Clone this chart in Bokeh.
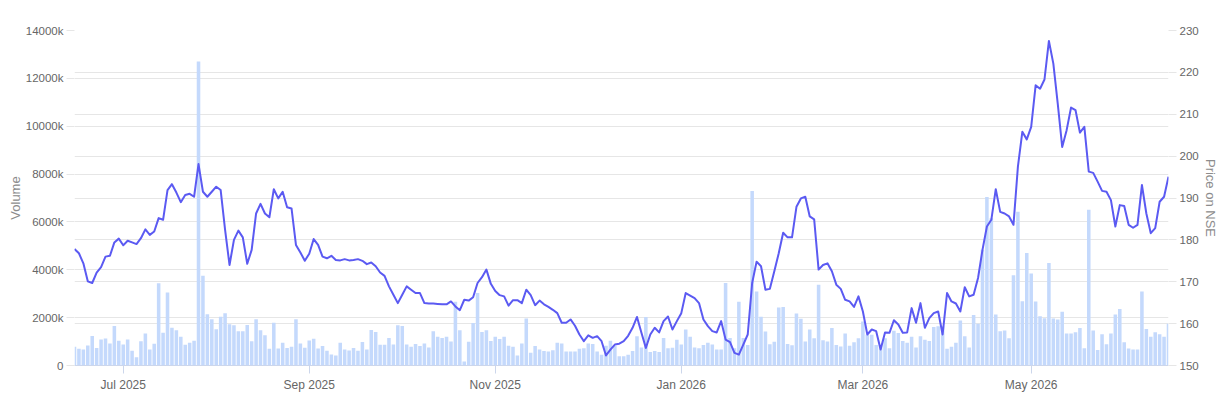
from bokeh.plotting import figure
from bokeh.models import Range1d, LinearAxis, FixedTicker, Grid, CustomJSTickFormatter
from bokeh.embed import file_html
from bokeh.resources import INLINE

# Daily traded volume (thousands of shares), one value per trading day
volume_k = [
    780, 700, 670, 840, 1230, 730, 1090, 1130, 920, 1650,
    1030, 880, 1090, 620, 340, 1010, 1340, 670, 910, 3440,
    1370, 3050, 1580, 1470, 1200, 870, 950, 1030, 12700, 3750,
    2140, 1930, 1510, 2040, 2180, 1720, 1680, 1430, 1430, 1690,
    1010, 1930, 1470, 1260, 700, 1790, 710, 950, 730, 780,
    1930, 920, 740, 1050, 1120, 710, 810, 620, 460, 420,
    950, 670, 630, 730, 620, 980, 670, 1480, 1400, 870,
    870, 1150, 880, 1680, 1650, 880, 780, 900, 810,
    920, 750, 1430, 1200, 1150, 1200, 1000, 2660, 1470, 170,
    990, 1780, 3030, 1400, 1470, 1020, 1200, 1110, 1200, 830,
    780, 420, 920, 1960, 530, 820, 670, 610, 580, 640,
    950, 920, 580, 580, 580, 700, 720, 920, 900, 580,
    450, 830, 1030, 810, 390, 390, 450, 610, 1220, 750,
    2030, 560, 610, 560, 1150, 720, 740, 1080, 880, 1500,
    1200, 750, 720, 860, 950, 880, 670, 670, 3450, 1150,
    720, 2660, 1150, 860, 7290, 3090, 2040, 1420, 890, 990,
    2420, 2450, 900, 850, 2170, 1950, 1000, 1500, 1140, 3370,
    1060, 1000, 1570, 860, 790, 1340, 830, 970, 1140, 1840,
    1280, 1280, 860, 850, 1140, 720, 1450, 1360, 1020, 950,
    1200, 750, 1220, 1080, 1020, 1610, 1640, 1640, 700, 780,
    950, 1880, 1220, 750, 2110, 1750, 4840, 7040, 6150, 2130,
    1430, 1460, 1140, 3770, 6430, 2680, 4700, 3840, 2670, 2060,
    1970, 4280, 1960, 1920, 2250, 1340, 1340, 1390, 1570, 720,
    6510, 1460, 650, 1310, 890, 1340, 2130, 2360, 970, 710,
    670, 670, 3090, 1530, 1200, 1390, 1310, 1200, 1750,
]

# Closing price on NSE, one value per trading day
price = [
    177.8, 176.8, 174.4, 170.1, 169.7, 172.2, 173.5, 176.0, 176.2, 179.4,
    180.3, 178.7, 179.8, 179.4, 179.0, 180.4, 182.5, 181.2, 182.0, 185.2,
    184.8, 191.9, 193.3, 191.3, 189.0, 190.7, 191.0, 190.3, 198.1, 191.5,
    190.3, 191.5, 192.7, 191.9, 182.4, 174.0, 180.0, 182.2, 180.6, 174.3,
    177.6, 186.3, 188.6, 186.3, 185.4, 192.1, 189.9, 191.5, 187.8, 187.5,
    178.8, 177.0, 175.0, 176.7, 180.2, 178.8, 176.0, 175.6, 176.2, 175.2,
    175.1, 175.4, 175.1, 175.2, 175.4, 175.0, 174.2, 174.6, 173.7, 172.2,
    171.4, 168.9, 166.9, 164.9, 166.9, 168.9, 168.1, 167.3, 167.3,
    164.9, 164.8, 164.8, 164.7, 164.6, 164.6, 165.3, 164.1, 163.2, 165.7,
    165.5, 166.3, 169.7, 171.1, 172.9, 169.5, 167.8, 166.8, 166.5, 164.3,
    165.6, 165.6, 164.9, 168.1, 166.8, 164.4, 165.5, 164.6, 164.0, 163.3,
    162.5, 160.2, 160.2, 161.0, 159.5, 157.4, 155.8, 157.2, 156.6, 157.0,
    155.8, 152.4, 153.8, 155.0, 155.2, 155.8, 157.1, 159.0, 161.6, 157.8,
    154.2, 157.4, 159.0, 157.9, 160.6, 161.7, 158.6, 160.6, 162.5, 167.3,
    166.7, 166.1, 164.9, 161.0, 159.4, 158.2, 157.9, 160.6, 156.2, 155.6,
    153.0, 152.6, 155.0, 157.4, 169.7, 174.8, 173.7, 168.1, 168.3, 172.5,
    176.8, 181.7, 180.6, 180.6, 187.9, 189.9, 190.3, 185.6, 184.9, 172.9,
    174.0, 174.4, 172.5, 169.3, 168.3, 165.7, 165.3, 164.0, 166.5, 162.9,
    157.4, 158.6, 158.2, 153.8, 157.9, 157.8, 160.8, 159.8, 157.8, 157.9,
    163.7, 160.2, 164.9, 159.0, 161.3, 162.5, 162.9, 157.4, 167.3, 165.3,
    164.8, 162.9, 168.7, 166.5, 166.9, 170.9, 177.6, 183.2, 184.8, 192.1,
    186.7, 186.3, 185.6, 183.6, 197.5, 205.8, 204.0, 207.0, 216.9, 216.1,
    218.3, 227.5, 222.1, 212.5, 202.2, 206.2, 211.6, 211.0, 205.6, 207.0,
    196.3, 196.0, 193.9, 191.7, 191.5, 189.5, 183.2, 188.3, 188.1, 183.6,
    182.9, 183.6, 193.1, 186.3, 181.6, 182.8, 189.1, 190.3, 195.1,
]

x_tick_index = [11, 53, 95, 137, 178, 216]
x_tick_labels = ["Jul 2025", "Sep 2025", "Nov 2025", "Jan 2026", "Mar 2026", "May 2026"]
volume_ticks = [0, 2000, 4000, 6000, 8000, 10000, 12000, 14000]
price_ticks = [150, 160, 170, 180, 190, 200, 210, 220, 230]

N = len(volume_k)
idx = list(range(N))

FONT = "Liberation Sans"
LABEL_COLOR = "#666666"
TITLE_COLOR = "#8c8c8c"
GRID_COLOR = "#e6e6e6"

p = figure(width=1226, height=394, output_backend="svg", toolbar_location=None,
           x_range=Range1d(0, N - 1), y_range=Range1d(0, 14000),
           min_border_left=74, min_border_right=58, min_border_top=30, min_border_bottom=28)
p.extra_y_ranges = {"price": Range1d(150, 230)}
p.outline_line_color = None
p.background_fill_color = "white"
p.border_fill_color = "white"

p.vbar(x=idx, top=volume_k, width=0.8, fill_color="#c4d9fc", line_color=None)
p.line(x=idx, y=price, y_range_name="price", line_color="#5b5af2", line_width=2,
       line_join="round")

# x axis
xa = p.xaxis[0]
xa.ticker = FixedTicker(ticks=x_tick_index)
xa.major_label_overrides = {i: lab for i, lab in zip(x_tick_index, x_tick_labels)}
xa.axis_line_color = "#ccd6eb"
xa.major_tick_line_color = "#ccd6eb"
xa.major_tick_out = 8
xa.major_tick_in = 0
xa.minor_tick_line_color = None
xa.major_label_standoff = 4
xa.major_label_text_font = FONT
xa.major_label_text_font_size = "12px"
xa.major_label_text_color = LABEL_COLOR

# left axis (volume)
ya = p.yaxis[0]
ya.ticker = FixedTicker(ticks=volume_ticks)
ya.formatter = CustomJSTickFormatter(code="return tick == 0 ? '0' : tick + 'k';")
ya.axis_label = "Volume"
ya.axis_line_color = None
ya.major_tick_line_color = GRID_COLOR
ya.major_tick_out = 8
ya.major_tick_in = 0
ya.minor_tick_line_color = None
ya.major_label_standoff = 3
ya.axis_label_standoff = 0
ya.major_label_text_font = FONT
ya.major_label_text_font_size = "11.5px"
ya.major_label_text_color = LABEL_COLOR
ya.axis_label_text_font = FONT
ya.axis_label_text_font_size = "13px"
ya.axis_label_text_font_style = "normal"
ya.axis_label_text_color = TITLE_COLOR

# right axis (price)
ra = LinearAxis(y_range_name="price", ticker=FixedTicker(ticks=price_ticks),
                axis_label="Price on NSE")
ra.axis_line_color = None
ra.major_tick_line_color = GRID_COLOR
ra.major_tick_out = 8
ra.major_tick_in = 0
ra.minor_tick_line_color = None
ra.major_label_standoff = 3
ra.axis_label_standoff = 1
ra.major_label_text_font = FONT
ra.major_label_text_font_size = "11.5px"
ra.major_label_text_color = LABEL_COLOR
ra.axis_label_text_font = FONT
ra.axis_label_text_font_size = "13px"
ra.axis_label_text_font_style = "normal"
ra.axis_label_text_color = TITLE_COLOR
p.add_layout(ra, "right")

# grids
p.xgrid.grid_line_color = None
p.ygrid.ticker = FixedTicker(ticks=volume_ticks)
p.ygrid.grid_line_color = GRID_COLOR
pg = Grid(dimension=1, ticker=FixedTicker(ticks=price_ticks), y_range_name="price",
          grid_line_color=GRID_COLOR)
p.add_layout(pg)

open("out.html", "w").write(file_html(p, INLINE))
